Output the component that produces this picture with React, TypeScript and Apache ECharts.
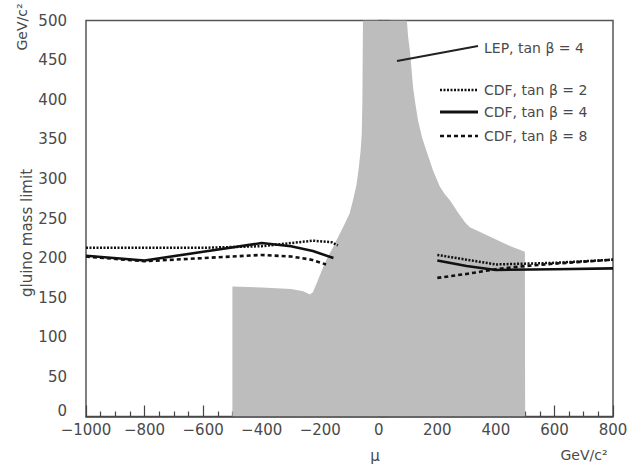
import React, { useEffect, useRef } from "react";
import * as echarts from "echarts";

// LEP excluded region (gray), tan beta = 4: [mu, gluino mass limit]
const lepRegion: [number, number][] = [
  [-500, 0], [-500, 164], [-400, 163], [-300, 161], [-258, 158], [-235, 154],
  [-225, 157], [-210, 170], [-184, 194], [-156, 214], [-122, 239], [-100, 256],
  [-88, 273], [-76, 293], [-68, 315], [-62, 336], [-58, 358], [-56, 400],
  [-55, 450], [-54, 500],
  [96, 500], [100, 480], [107, 459], [117, 416], [125, 395], [134, 374],
  [148, 352], [165, 333], [186, 310], [209, 290], [225, 281], [243, 273],
  [270, 258], [295, 245], [311, 239], [346, 233], [404, 223], [450, 215],
  [499, 208], [500, 0],
];

// CDF limits; "-" breaks the curve between the two segments
const cdfTan2: [number, number | string][] = [
  [-1000, 213], [-800, 213], [-600, 213], [-400, 215], [-300, 219], [-225, 222],
  [-160, 220], [-140, 216], [0, "-"],
  [200, 204], [300, 198], [400, 192], [500, 193], [600, 194], [700, 196], [800, 198],
];
const cdfTan4: [number, number | string][] = [
  [-1000, 203], [-800, 197], [-600, 208], [-400, 219], [-300, 215], [-225, 209],
  [-155, 200], [0, "-"],
  [200, 197], [300, 190], [400, 185], [600, 186], [800, 187],
];
const cdfTan8: [number, number | string][] = [
  [-1000, 202], [-800, 196], [-600, 200], [-400, 204], [-300, 202], [-230, 198],
  [-180, 192], [0, "-"],
  [200, 175], [300, 180], [400, 186], [500, 190], [600, 193], [800, 198],
];

const legendLabels = ["CDF, tan β = 2", "CDF, tan β = 4", "CDF, tan β = 8"];
const lepLabel = "LEP, tan β = 4";

const FONT = "DejaVu Sans";
const TXT = "#4a4a4a";

export default function App() {
  const ref = useRef<HTMLDivElement>(null);
  useEffect(() => {
    if (!ref.current) return;
    const chart = echarts.init(ref.current, null, { renderer: "svg" });
    const minus = (v: number) => String(v).replace("-", "\u2212");
    const lineBase = { type: "line", symbol: "none", connectNulls: false, z: 3 } as any;
    chart.setOption({
      animation: false,
      backgroundColor: "#fff",
      grid: {
        left: 86, right: 19, top: 20.5, bottom: 49.5,
        show: true, borderColor: "#555", borderWidth: 1.5,
      },
      xAxis: {
        type: "value", min: -1000, max: 800, interval: 200,
        axisLine: { show: true, lineStyle: { color: "#444", width: 1.5 } },
        axisTick: { show: true, inside: true, length: 11, lineStyle: { color: "#444", width: 1.2 } },
        minorTick: { show: true, splitNumber: 4, length: 5, lineStyle: { color: "#444", width: 1.2 } },
        splitLine: { show: false },
        axisLabel: { color: TXT, fontFamily: FONT, fontSize: 15, margin: 6, formatter: minus },
      },
      yAxis: {
        type: "value", min: 0, max: 500, interval: 50,
        axisLine: { show: true, lineStyle: { color: "#444", width: 1.5 } },
        axisTick: { show: true, inside: true, length: 11, lineStyle: { color: "#444", width: 1.2 } },
        minorTick: { show: true, splitNumber: 5, length: 5, lineStyle: { color: "#444", width: 1.2 } },
        splitLine: { show: false },
        axisLabel: {
          color: TXT, fontFamily: FONT, fontSize: 15, margin: 19,
          formatter: (v: number) => (v === 0 ? "{z|0}" : String(v)),
          rich: { z: { color: TXT, fontFamily: FONT, fontSize: 15, padding: [0, 0, 12, 0] } },
        },
      },
      series: [
        {
          type: "line", data: lepRegion, symbol: "none", z: 2,
          lineStyle: { width: 0, color: "#bdbdbd" },
          areaStyle: { color: "#bdbdbd", opacity: 1 },
        },
        { ...lineBase, name: legendLabels[0], data: cdfTan2, lineStyle: { color: "#111", width: 2.5, type: [2, 1.5] } },
        { ...lineBase, name: legendLabels[1], data: cdfTan4, lineStyle: { color: "#111", width: 2.6, type: "solid" } },
        { ...lineBase, name: legendLabels[2], data: cdfTan8, lineStyle: { color: "#111", width: 2.6, type: [4, 3] } },
      ],
      graphic: [
        // pointer for LEP label
        { type: "line", shape: { x1: 397, y1: 61, x2: 478, y2: 46 }, style: { stroke: "#222", lineWidth: 2 }, z: 10 },
        { type: "text", x: 484, y: 48, style: { text: lepLabel, fill: TXT, font: `14px "${FONT}"`, verticalAlign: "middle" }, z: 10 },
        // legend
        { type: "line", shape: { x1: 440, y1: 90, x2: 478, y2: 90 }, style: { stroke: "#111", lineWidth: 2.5, lineDash: [2, 1.5] }, z: 10 },
        { type: "text", x: 484, y: 90, style: { text: legendLabels[0], fill: TXT, font: `14px "${FONT}"`, verticalAlign: "middle" }, z: 10 },
        { type: "line", shape: { x1: 440, y1: 112, x2: 478, y2: 112 }, style: { stroke: "#111", lineWidth: 2.8 }, z: 10 },
        { type: "text", x: 484, y: 112, style: { text: legendLabels[1], fill: TXT, font: `14px "${FONT}"`, verticalAlign: "middle" }, z: 10 },
        { type: "line", shape: { x1: 440, y1: 136, x2: 478, y2: 136 }, style: { stroke: "#111", lineWidth: 2.6, lineDash: [4, 3] }, z: 10 },
        { type: "text", x: 484, y: 136, style: { text: legendLabels[2], fill: TXT, font: `14px "${FONT}"`, verticalAlign: "middle" }, z: 10 },
        // axis names
        { type: "text", x: 27, y: 233, rotation: Math.PI / 2, style: { text: "gluino mass limit", fill: TXT, font: `15px "${FONT}"`, align: "center", verticalAlign: "middle" } },
        { type: "text", x: 22, y: 27, rotation: Math.PI / 2, style: { text: "GeV/c²", fill: TXT, font: `14px "${FONT}"`, align: "center", verticalAlign: "middle" } },
        { type: "text", x: 375, y: 456, style: { text: "μ", fill: TXT, font: `15px "${FONT}"`, align: "center", verticalAlign: "middle" } },
        { type: "text", x: 584, y: 455, style: { text: "GeV/c²", fill: TXT, font: `14px "${FONT}"`, align: "center", verticalAlign: "middle" } },
      ],
    });
    return () => chart.dispose();
  }, []);
  return <div ref={ref} style={{ width: 632, height: 466, position: "absolute", left: 0, top: 0 }} />;
}
